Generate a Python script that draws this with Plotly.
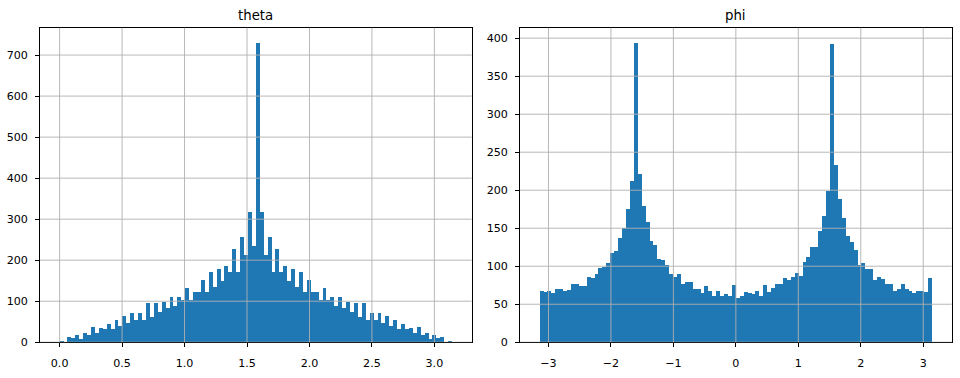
import numpy as np
import plotly.graph_objects as go

# ---- data (bin counts) ----
theta_counts = [2, 0, 13, 11, 17, 9, 23, 17, 37, 24,
                36, 34, 46, 32, 54, 40, 65, 47, 71, 55,
                71, 55, 96, 63, 96, 74, 98, 84, 111, 88,
                111, 104, 133, 104, 123, 123, 152, 122, 172, 135,
                179, 151, 186, 172, 229, 172, 258, 212, 317, 234,
                730, 317, 212, 258, 172, 229, 172, 186, 151, 179,
                135, 172, 122, 152, 123, 123, 104, 133, 104, 111,
                88, 111, 84, 98, 74, 96, 63, 96, 55, 71,
                55, 71, 47, 65, 40, 54, 32, 46, 34, 36,
                24, 37, 17, 23, 9, 17, 11, 13, 0, 2]

phi_counts = [67.5, 66.7, 67.5, 64.5, 69.7, 69.7, 67.5, 69, 76.6, 76.6,
              74.4, 74.4, 86.5, 84.3, 89.5, 98, 99.4, 104.5, 118, 120,
              138, 150, 176, 212, 394, 222, 180, 158, 133, 128,
              110, 108, 102, 89.5, 86.5, 89.5, 76.6, 80, 80, 69.7,
              69.7, 64.5, 74.4, 67.5, 61.5, 67.5, 61.5, 63.7, 61.5, 76,
              58.5, 61.5, 66, 64.5, 63.7, 67.5, 61.5, 76, 66, 71.4,
              76.6, 76.6, 84.3, 82, 86.5, 92, 87.3, 105.4, 112, 125,
              125, 146, 166, 199, 393, 234, 189, 164, 140, 132,
              122, 102, 104.5, 96, 97, 82, 86.5, 83, 77.4, 77.4,
              67.5, 69.7, 76.6, 69.7, 67.5, 64.5, 67.5, 67.5, 66.7, 84.3]

theta_range = (0.0, np.pi)
phi_range = (-np.pi, np.pi)

theta_xticks = [0.0, 0.5, 1.0, 1.5, 2.0, 2.5, 3.0]
theta_xticklabels = ["0.0", "0.5", "1.0", "1.5", "2.0", "2.5", "3.0"]
theta_yticks = [0, 100, 200, 300, 400, 500, 600, 700]
phi_xticks = [-3, -2, -1, 0, 1, 2, 3]
phi_xticklabels = ["\u22123", "\u22122", "\u22121", "0", "1", "2", "3"]
phi_yticks = [0, 50, 100, 150, 200, 250, 300, 350, 400]

BLUE = "#1f77b4"
GRID = "#b0b0b0"
FONT = "DejaVu Sans"
TICK_SIZE = 11.1
TITLE_SIZE = 13.3

W, H = 960, 378


def edges_centers(rng, n):
    e = np.linspace(rng[0], rng[1], n + 1)
    return (e[:-1] + e[1:]) / 2, e[1] - e[0]


fig = go.Figure()

tc, tw = edges_centers(theta_range, len(theta_counts))
pc, pw = edges_centers(phi_range, len(phi_counts))

fig.add_trace(go.Bar(x=tc, y=theta_counts, width=tw, marker=dict(color=BLUE, line=dict(width=0)),
                     xaxis="x", yaxis="y", showlegend=False))
fig.add_trace(go.Bar(x=pc, y=phi_counts, width=pw, marker=dict(color=BLUE, line=dict(width=0)),
                     xaxis="x2", yaxis="y2", showlegend=False))

# axes geometry (pixels)
top_px, bot_px = 28.3, 348.7
ydom = [(H - bot_px) / H, (H - top_px) / H]
dom1 = [40 / W, 471.7 / W]
dom2 = [520 / W, 951.7 / W]


def xr(rng):
    span = rng[1] - rng[0]
    return [rng[0] - 0.05 * span, rng[1] + 0.05 * span]


axis_common = dict(showline=True, mirror=True, linecolor="black", linewidth=0.9,
                   ticks="outside", ticklen=4, tickwidth=0.9, tickcolor="black",
                   showgrid=False, zeroline=False,
                   tickfont=dict(family=FONT, size=TICK_SIZE, color="black"))

fig.update_layout(
    width=W, height=H,
    margin=dict(l=0, r=0, t=0, b=0),
    paper_bgcolor="white", plot_bgcolor="white",
    bargap=0,
    font=dict(family=FONT, size=TICK_SIZE, color="black"),
    xaxis=dict(domain=dom1, anchor="y", range=xr(theta_range), ticklabelstandoff=6,
               tickvals=theta_xticks, ticktext=theta_xticklabels, **axis_common),
    yaxis=dict(domain=ydom, anchor="x", range=[0, max(theta_counts) * 1.05], ticklabelstandoff=5,
               tickvals=theta_yticks, **axis_common),
    xaxis2=dict(domain=dom2, anchor="y2", range=xr(phi_range), ticklabelstandoff=6,
                tickvals=phi_xticks, ticktext=phi_xticklabels, **axis_common),
    yaxis2=dict(domain=ydom, anchor="x2", range=[0, max(phi_counts) * 1.05], ticklabelstandoff=5,
                tickvals=phi_yticks, **axis_common),
)

# grid lines drawn above bars (as matplotlib does)
shapes = []
for v in theta_xticks:
    shapes.append(dict(type="line", xref="x", yref="y domain", x0=v, x1=v, y0=0, y1=1,
                       line=dict(color=GRID, width=0.9), layer="above"))
for v in theta_yticks:
    shapes.append(dict(type="line", xref="x domain", yref="y", x0=0, x1=1, y0=v, y1=v,
                       line=dict(color=GRID, width=0.9), layer="above"))
for v in phi_xticks:
    shapes.append(dict(type="line", xref="x2", yref="y2 domain", x0=v, x1=v, y0=0, y1=1,
                       line=dict(color=GRID, width=0.9), layer="above"))
for v in phi_yticks:
    shapes.append(dict(type="line", xref="x2 domain", yref="y2", x0=0, x1=1, y0=v, y1=v,
                       line=dict(color=GRID, width=0.9), layer="above"))
fig.update_layout(shapes=shapes)

title_y = (H - top_px + 3) / H
fig.add_annotation(text="theta", xref="paper", yref="paper", x=sum(dom1) / 2, y=title_y,
                   xanchor="center", yanchor="bottom", showarrow=False,
                   font=dict(family=FONT, size=TITLE_SIZE, color="black"))
fig.add_annotation(text="phi", xref="paper", yref="paper", x=sum(dom2) / 2, y=title_y,
                   xanchor="center", yanchor="bottom", showarrow=False,
                   font=dict(family=FONT, size=TITLE_SIZE, color="black"))

fig.write_html("out.html")
